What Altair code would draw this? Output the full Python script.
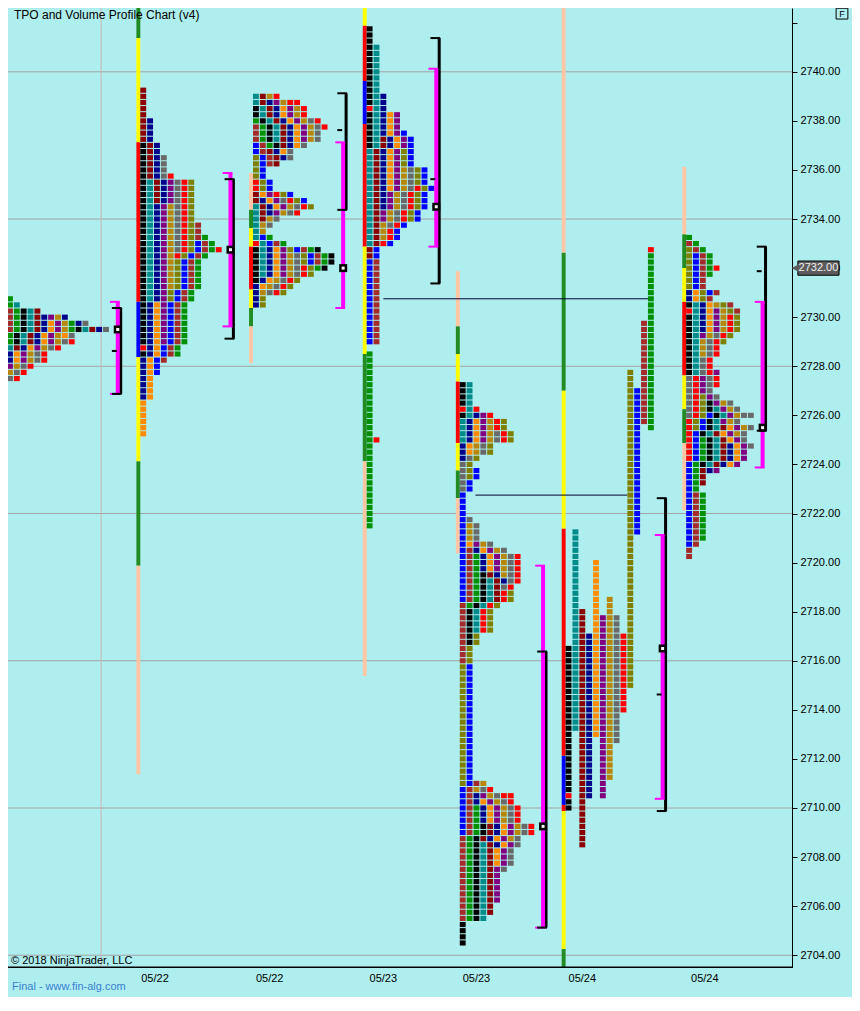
import altair as alt
import pandas as pd

# ---------------- texts ----------------
TITLE = "TPO and Volume Profile Chart (v4)"
COPYRIGHT = "© 2018 NinjaTrader, LLC"
FOOTER = "Final - www.fin-alg.com"
LAST_PRICE = 2732.00

date_labels = ["05/22", "05/22", "05/23", "05/23", "05/24", "05/24"]
date_x = [150, 267, 383, 478, 586, 711]

grid_prices = [2704, 2710, 2716, 2722, 2728, 2734, 2740]
axis_ticks = list(range(2704, 2743, 2))
vgrid_x = [95]

tpo_colors = {"k": "#000000", "T": "#008B8B", "R": "#8B0000", "N": "#00008B",
              "O": "#FF8C00", "P": "#800080", "G": "#B8860B", "Y": "#696969",
              "r": "#FF0000", "L": "#808000", "b": "#0000FF", "w": "#A52A2A",
              "g": "#009000"}
line_colors = {"s": "#FFC6A5", "g": "#228B22", "y": "#FFFF00", "r": "#FF0000", "b": "#0000FF"}

# ---------------- profiles: (order, colour, low, high) ----------------
A_segs = [(1, "w", 2729.5, 2730.25), (2, "g", 2729.0, 2730.75), (3, "k", 2729.0, 2730.25),
          (4, "T", 2728.75, 2730.5), (5, "R", 2728.75, 2730.25), (6, "N", 2728.25, 2730.0),
          (7, "O", 2728.25, 2729.75), (8, "P", 2728.0, 2730.0), (9, "G", 2727.75, 2730.0),
          (10, "Y", 2727.5, 2729.0), (11, "r", 2727.5, 2729.0), (12, "g", 2729.5, 2729.75),
          (13, "k", 2729.5, 2729.5), (14, "T", 2729.5, 2729.5), (15, "R", 2729.5, 2729.5),
          (16, "N", 2729.5, 2730.0), (17, "O", 2729.25, 2729.25), (18, "Y", 2729.25, 2729.75)]

B_segs = [(1, "k", 2728.5, 2737.0), (2, "T", 2730.75, 2735.5), (3, "R", 2734.75, 2739.25),
          (4, "N", 2726.75, 2738.0), (5, "O", 2725.25, 2730.5), (6, "P", 2729.0, 2735.5),
          (7, "G", 2731.25, 2734.5), (8, "Y", 2732.75, 2736.5), (9, "r", 2732.5, 2735.75),
          (10, "L", 2730.75, 2735.5), (11, "b", 2727.75, 2733.0), (12, "w", 2728.25, 2733.75),
          (13, "g", 2728.5, 2733.25), (14, "r", 2732.75, 2732.75)]

C_segs = [(1, "k", 2731.5, 2733.0), (2, "T", 2731.75, 2734.5), (3, "R", 2734.0, 2735.0),
          (4, "N", 2730.5, 2732.75), (4, "N", 2734.25, 2734.75),
          (5, "O", 2731.25, 2732.75), (5, "O", 2734.5, 2735.0),
          (6, "P", 2731.75, 2732.75), (6, "P", 2734.25, 2735.0),
          (7, "G", 2731.0, 2732.5), (7, "G", 2733.5, 2734.5),
          (8, "Y", 2731.0, 2732.5), (8, "Y", 2733.75, 2734.75),
          (9, "r", 2731.0, 2732.0), (9, "r", 2734.25, 2735.5),
          (10, "L", 2730.5, 2732.75), (10, "L", 2734.5, 2736.5),
          (11, "b", 2732.25, 2733.25), (11, "b", 2734.75, 2737.0),
          (12, "w", 2732.25, 2733.0), (12, "w", 2736.25, 2737.75),
          (13, "g", 2732.0, 2733.25), (13, "g", 2737.0, 2738.0),
          (14, "k", 2732.0, 2732.75), (14, "k", 2737.0, 2738.5),
          (15, "T", 2737.25, 2739.0), (16, "R", 2736.25, 2739.0), (17, "N", 2736.5, 2738.75),
          (18, "O", 2736.75, 2738.5), (19, "P", 2737.25, 2738.75), (20, "G", 2737.25, 2739.0),
          (21, "Y", 2736.5, 2738.0), (22, "r", 2737.75, 2739.0), (23, "r", 2738.75, 2738.75)]

D_segs = [(1, "k", 2737.0, 2741.75), (2, "T", 2733.0, 2741.0), (3, "R", 2732.5, 2737.25),
          (4, "N", 2734.5, 2739.0), (5, "O", 2735.25, 2738.25), (6, "P", 2734.0, 2738.25),
          (7, "G", 2733.25, 2736.0), (8, "Y", 2733.75, 2736.0), (9, "r", 2733.0, 2735.25),
          (10, "L", 2734.0, 2736.75), (11, "b", 2729.0, 2737.5), (12, "w", 2729.0, 2732.25),
          (13, "g", 2721.5, 2728.5), (14, "r", 2725.0, 2725.0)]

E_segs = [(1, "k", 2726.0, 2727.25), (2, "T", 2725.0, 2727.25), (4, "N", 2724.25, 2726.0),
          (5, "O", 2724.5, 2725.75), (6, "P", 2725.0, 2726.0), (7, "G", 2724.5, 2725.75),
          (8, "Y", 2723.0, 2725.25), (9, "r", 2725.0, 2726.25), (10, "L", 2723.5, 2725.75),
          (11, "b", 2718.5, 2723.75), (12, "w", 2716.0, 2720.5), (13, "g", 2718.25, 2720.25),
          (14, "k", 2716.75, 2719.5), (15, "T", 2717.25, 2719.25), (16, "R", 2718.5, 2719.5),
          (17, "N", 2719.25, 2720.5), (18, "O", 2719.75, 2720.75), (19, "P", 2719.75, 2720.75),
          (20, "G", 2719.5, 2721.5), (21, "Y", 2719.0, 2721.75), (22, "r", 2717.25, 2720.25),
          (23, "L", 2711.0, 2718.75), (24, "b", 2709.0, 2715.75), (25, "w", 2705.5, 2711.0),
          (26, "g", 2705.5, 2710.0), (27, "k", 2704.5, 2709.25), (28, "T", 2705.5, 2708.5),
          (29, "R", 2705.75, 2709.25), (30, "N", 2708.5, 2710.5), (31, "O", 2707.75, 2710.25),
          (32, "P", 2706.25, 2710.5), (33, "G", 2708.75, 2711.0), (34, "Y", 2707.5, 2710.75),
          (35, "r", 2709.0, 2710.75), (36, "r", 2710.5, 2710.5)]

# split profile: (column, colour, low, high)
F_segs = [(0, "k", 2710.0, 2716.5), (1, "T", 2713.25, 2721.25), (2, "R", 2708.5, 2718.0),
          (3, "N", 2710.5, 2717.0), (4, "O", 2713.0, 2720.0), (5, "P", 2710.5, 2717.75),
          (6, "G", 2711.25, 2718.5), (7, "Y", 2712.75, 2717.75), (8, "r", 2714.0, 2717.0),
          (9, "L", 2715.0, 2727.75), (10, "b", 2721.25, 2727.0), (11, "w", 2725.75, 2729.75),
          (12, "g", 2725.5, 2732.5), (12, "r", 2732.75, 2732.75)]

G_segs = [(1, "k", 2727.75, 2730.5), (2, "T", 2727.75, 2730.5), (4, "N", 2729.5, 2731.0),
          (5, "O", 2729.5, 2731.0), (6, "P", 2729.25, 2730.25), (7, "G", 2728.5, 2730.5),
          (8, "Y", 2726.0, 2729.25), (9, "r", 2724.25, 2730.0),
          (10, "L", 2729.0, 2732.75), (10, "L", 2725.5, 2726.75),
          (11, "b", 2731.0, 2732.5), (11, "b", 2720.75, 2726.0),
          (12, "w", 2730.25, 2733.0), (12, "w", 2720.25, 2722.75),
          (13, "g", 2731.75, 2733.25), (13, "g", 2721.0, 2725.0), (13.5, "r", 2732.0, 2732.0),
          (14, "k", 2724.0, 2726.5), (15, "T", 2724.0, 2726.25), (16, "R", 2723.25, 2725.5),
          (17, "N", 2723.75, 2724.75), (18, "O", 2724.0, 2725.5), (19, "P", 2723.75, 2727.75),
          (20, "G", 2725.25, 2726.5), (21, "Y", 2724.75, 2727.5), (22, "r", 2727.25, 2727.5),
          (23, "Y", 2726.0, 2726.0)]

profile_segs = [A_segs, B_segs, C_segs, D_segs, E_segs, F_segs, G_segs]
profile_start = [-1, 135, 250, 366, 461, 569, 692]
profile_mode = ["compressed"] * 5 + ["split", "compressed"]
profile_open = [None, 2728.75, 2733.0, 2738.5, 2726.25, 2710.5, 2730.25]

# session range lines: (colour, low, high)
B_line = [("g", 2741.375, 2742.6), ("y", 2737.125, 2741.375), ("r", 2730.625, 2737.125),
          ("b", 2728.375, 2730.625), ("y", 2724.125, 2728.375), ("g", 2719.875, 2724.125),
          ("s", 2711.375, 2719.875)]
C_line = [("s", 2734.375, 2735.875), ("g", 2733.625, 2734.375), ("y", 2732.875, 2733.625),
          ("r", 2731.125, 2732.875), ("y", 2730.375, 2731.125), ("g", 2729.625, 2730.375),
          ("s", 2728.125, 2729.625)]
D_line = [("y", 2741.875, 2742.6), ("r", 2739.625, 2741.875), ("b", 2737.875, 2739.625),
          ("r", 2732.875, 2737.875), ("y", 2728.5, 2732.875), ("g", 2724.125, 2728.5),
          ("s", 2715.375, 2724.125)]
E_line = [("s", 2729.625, 2731.875), ("g", 2728.5, 2729.625), ("y", 2727.375, 2728.5),
          ("r", 2724.875, 2727.375), ("y", 2723.75, 2724.875), ("g", 2722.625, 2723.75),
          ("s", 2720.375, 2722.625)]
F_line = [("s", 2732.625, 2742.6), ("g", 2727.0, 2732.625), ("y", 2721.375, 2727.0),
          ("r", 2712.125, 2721.375), ("b", 2710.125, 2712.125), ("r", 2709.875, 2710.125),
          ("y", 2704.25, 2709.875), ("g", 2703.52, 2704.25)]
G_line = [("s", 2733.375, 2736.125), ("g", 2732.0, 2733.375), ("y", 2730.625, 2732.0),
          ("r", 2727.625, 2730.625), ("y", 2726.25, 2727.625), ("g", 2724.875, 2726.25),
          ("s", 2722.125, 2724.875)]
profile_lines = [[], B_line, C_line, D_line, E_line, F_line, G_line]

# brackets (value area magenta, range black) and POC boxes
br_x = [112, 227, 342, 437, 546, 668, 770]
mag_hi = [2730.625, 2735.875, 2737.125, 2740.125, 2719.875, 2721.125, 2730.625]
mag_lo = [2726.875, 2729.625, 2730.375, 2732.875, 2705.125, 2710.375, 2723.875]
blk_hi = [2730.375, 2735.625, 2739.125, 2741.375, 2716.375, 2722.625, 2732.875]
blk_lo = [2726.875, 2729.125, 2734.375, 2731.375, 2705.125, 2709.875, 2725.375]
blk_mid = [2728.625, None, 2737.625, 2735.625, None, 2714.625, 2731.875]
poc = [2729.5, 2732.75, 2732.0, 2734.5, 2709.25, 2716.5, 2725.5]

naked_price = [2730.75, 2722.75]
naked_x0 = [383, 477]
naked_x1 = [653, 632]

# ---------------- geometry ----------------
Y_MIN, Y_MAX = 2703.52, 2742.6
W, H = 784, 959
COL = 7
SQ_W = 6
SQ_H = 0.105

xs = alt.Scale(domain=[0, 800], nice=False, zero=False)
ys = alt.Scale(domain=[Y_MIN, Y_MAX], nice=False, zero=False)
FONT = "Liberation Sans, Arial, sans-serif"
xaxis = alt.Axis(ticks=False, labels=False, grid=False, domain=True, domainColor="black",
                 domainWidth=1, title=None)
yaxis = alt.Axis(orient="right", values=axis_ticks, grid=False, tickColor="black", tickSize=5,
                 domain=True, domainColor="black", domainWidth=1, labelColor="black",
                 labelFont=FONT, labelFontSize=11, labelPadding=3, labelOverlap=False,
                 labelFlush=False, title=None,
                 labelExpr="datum.value > 2741 ? '' : format(datum.value, '.2f')")


def X(f):
    return alt.X(f, type="quantitative", scale=xs, axis=xaxis)


def Y(f):
    return alt.Y(f, type="quantitative", scale=ys, axis=yaxis)


# ---------------- build tables ----------------
sq = []
for start, mode, opn, segs in zip(profile_start, profile_mode, profile_open, profile_segs):
    qa = [int(round(s[2] * 4)) for s in segs]
    qb = [int(round(s[3] * 4)) for s in segs]
    for q in range(min(qa), max(qb) + 1):
        p = q / 4
        act = [s for s, a, b in zip(segs, qa, qb) if a <= q <= b]
        if mode == "split":
            placed = [(int(s[0]), s[1]) for s in act]
        else:
            act = sorted(act, key=lambda s: s[0])
            placed = [(i, s[1]) for i, s in enumerate(act)]
        for col, code in placed:
            c = tpo_colors[code]
            if opn is not None and col == 0 and abs(p - opn) < 1e-9:
                c = tpo_colors["r"]
            x0 = start + COL * col
            sq.append(dict(x=x0, x2=x0 + SQ_W, y=p - SQ_H, y2=p + SQ_H, c=c))
sq_df = pd.DataFrame(sq)

ln = []
for start, segs in zip(profile_start, profile_lines):
    for code, lo, hi in segs:
        ln.append(dict(x=start - 4, x2=start, y=lo, y2=hi, c=line_colors[code]))
ln_df = pd.DataFrame(ln)

mag_v = pd.DataFrame(dict(x=br_x, y=mag_lo, y2=mag_hi))
blk_v = pd.DataFrame(dict(x=[v + 3 for v in br_x], y=blk_lo, y2=blk_hi))
caps = []
for i, mx in enumerate(br_x):
    for p in (mag_hi[i], mag_lo[i]):
        caps.append(dict(x=mx - 8, x2=mx + 2, y=p, c="#FF00FF"))
    for p in (blk_hi[i], blk_lo[i]):
        caps.append(dict(x=mx - 6, x2=mx + 4, y=p, c="#000000"))
    if blk_mid[i] is not None:
        caps.append(dict(x=mx - 6, x2=mx - 1, y=blk_mid[i], c="#000000"))
caps_df = pd.DataFrame(caps)
poc_df = pd.DataFrame(dict(x=br_x, y=poc))

# ---------------- layers ----------------
hgrid = alt.Chart(pd.DataFrame(dict(y=grid_prices))).mark_rule(
    color="#A3A3A3", strokeWidth=1).encode(y=Y("y"))
vgrid = alt.Chart(pd.DataFrame(dict(x=vgrid_x))).mark_rule(
    color="#C8B6B6", strokeWidth=1).encode(x=X("x"))

lines = alt.Chart(ln_df).mark_rect(clip=True).encode(
    x=X("x"), x2="x2", y=Y("y"), y2="y2", color=alt.Color("c:N", scale=None))

naked = alt.Chart(pd.DataFrame(dict(x=naked_x0, x2=naked_x1, y=naked_price))).mark_rule(
    color="#000030", strokeWidth=1).encode(x=X("x"), x2="x2", y=Y("y"))

squares = alt.Chart(sq_df).mark_rect(clip=True).encode(
    x=X("x"), x2="x2", y=Y("y"), y2="y2", color=alt.Color("c:N", scale=None))

blk_layer = alt.Chart(blk_v).mark_rule(color="black", strokeWidth=3).encode(
    x=X("x"), y=Y("y"), y2="y2")
mag_layer = alt.Chart(mag_v).mark_rule(color="#FF00FF", strokeWidth=4).encode(
    x=X("x"), y=Y("y"), y2="y2")
cap_layer = alt.Chart(caps_df).mark_rule(strokeWidth=2).encode(
    x=X("x"), x2="x2", y=Y("y"), color=alt.Color("c:N", scale=None))

poc_outer = alt.Chart(poc_df).mark_square(color="black", size=64, opacity=1).encode(
    x=X("x"), y=Y("y"))
poc_inner = alt.Chart(poc_df).mark_square(color="white", size=9, opacity=1).encode(
    x=X("x"), y=Y("y"))

bottom_line = alt.Chart(pd.DataFrame(dict(k=[0]))).mark_rect(color="black").encode(
    x=alt.value(0), x2=alt.value(W + 1), y=alt.value(H - 0.5), y2=alt.value(H + 1.0))

title_t = alt.Chart(pd.DataFrame(dict(t=[TITLE]))).mark_text(
    align="left", baseline="middle", font=FONT, fontSize=12, color="black").encode(
    x=alt.value(6), y=alt.value(7), text="t:N")
copy_t = alt.Chart(pd.DataFrame(dict(t=[COPYRIGHT]))).mark_text(
    align="left", baseline="middle", font=FONT, fontSize=11, color="black").encode(
    x=alt.value(3), y=alt.value(953), text="t:N")
foot_t = alt.Chart(pd.DataFrame(dict(t=[FOOTER]))).mark_text(
    align="left", baseline="middle", font=FONT, fontSize=11, color="#3A80D2").encode(
    x=alt.value(4), y=alt.value(979), text="t:N")
dates_t = alt.Chart(pd.DataFrame(dict(x=date_x, t=date_labels))).mark_text(
    align="center", baseline="middle", font=FONT, fontSize=11, color="black").encode(
    x=X("x"), y=alt.value(H + 12), text="t:N")

pm_box = alt.Chart(pd.DataFrame(dict(x=[806], x2=[848], y=[LAST_PRICE - 0.29], y2=[LAST_PRICE + 0.29]))).mark_rect(
    fill="#5C5C5C", stroke="black", strokeWidth=1).encode(x=X("x"), x2="x2", y=Y("y"), y2="y2")
pm_arrow = alt.Chart(pd.DataFrame(dict(x=[803.5], y=[LAST_PRICE]))).mark_point(
    shape="triangle-left", filled=True, size=70, color="#5C5C5C", opacity=1).encode(x=X("x"), y=Y("y"))
pm_text = alt.Chart(pd.DataFrame(dict(x=[827], y=[LAST_PRICE], t=[f"{LAST_PRICE:.2f}"]))).mark_text(
    align="center", baseline="middle", font=FONT, fontSize=11, color="#F2F2F2").encode(
    x=X("x"), y=Y("y"), text="t:N")

fbox = alt.Chart(pd.DataFrame(dict(x=[845], x2=[857], y=[2742.15], y2=[2742.59]))).mark_rect(
    fill="#AFEEEE", stroke="black", strokeWidth=1).encode(x=X("x"), x2="x2", y=Y("y"), y2="y2")
ftext = alt.Chart(pd.DataFrame(dict(x=[851], y=[2742.37], t=["F"]))).mark_text(
    align="center", baseline="middle", font=FONT, fontSize=9, color="black").encode(
    x=X("x"), y=Y("y"), text="t:N")

chart = alt.layer(
    hgrid, vgrid, lines, naked, squares, blk_layer, mag_layer, cap_layer,
    poc_outer, poc_inner, bottom_line, title_t, copy_t, foot_t, dates_t,
    pm_box, pm_arrow, pm_text, fbox, ftext
).properties(
    width=W, height=H,
    autosize=alt.AutoSizeParams(type="none"),
    padding={"left": 0, "top": 0, "right": 60, "bottom": 30},
).configure(background="#AFEEEE").configure_view(stroke=None)

chart.save("out.html", embed_options={"renderer": "svg", "actions": False})
